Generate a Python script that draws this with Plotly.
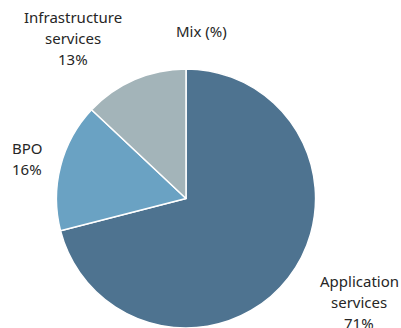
import plotly.graph_objects as go

labels = ["Application services", "BPO", "Infrastructure services"]
label_lines = [["Application", "services"], ["BPO"], ["Infrastructure", "services"]]
values = [71, 16, 13]
colors = ["#4e7390", "#6aa2c3", "#a3b4b9"]
title = "Mix (%)"

fig = go.Figure(go.Pie(
    labels=labels, values=values, sort=False, direction="clockwise",
    rotation=0, textinfo="none", hoverinfo="label+percent",
    marker=dict(colors=colors, line=dict(color="white", width=1.5)),
    domain=dict(x=[0.1397, 0.788], y=[0.0, 0.79]),
    showlegend=False,
))

font = dict(family="Noto Sans, Open Sans, sans-serif", size=15, color="#262626")
# (center x, first line center y) in pixels
label_pos = [(359, 281), (27, 148), (73, 17)]
spacing = 21
annotations = []
for lines, v, (px, py) in zip(label_lines, values, label_pos):
    all_lines = lines + [f"{v}%"]
    for i, ln in enumerate(all_lines):
        annotations.append(dict(
            text=ln, x=px / 401, y=1 - (py + i * spacing) / 328, xref="paper", yref="paper",
            showarrow=False, xanchor="center", yanchor="middle", font=font, align="center"))
annotations.append(dict(text=title, x=201 / 401, y=1 - 31 / 328, xref="paper", yref="paper",
                        showarrow=False, xanchor="center", yanchor="middle", font=font))

fig.update_layout(
    width=401, height=328, margin=dict(l=0, r=0, t=0, b=0),
    paper_bgcolor="white", plot_bgcolor="white", annotations=annotations,
)
fig.write_html("out.html")
